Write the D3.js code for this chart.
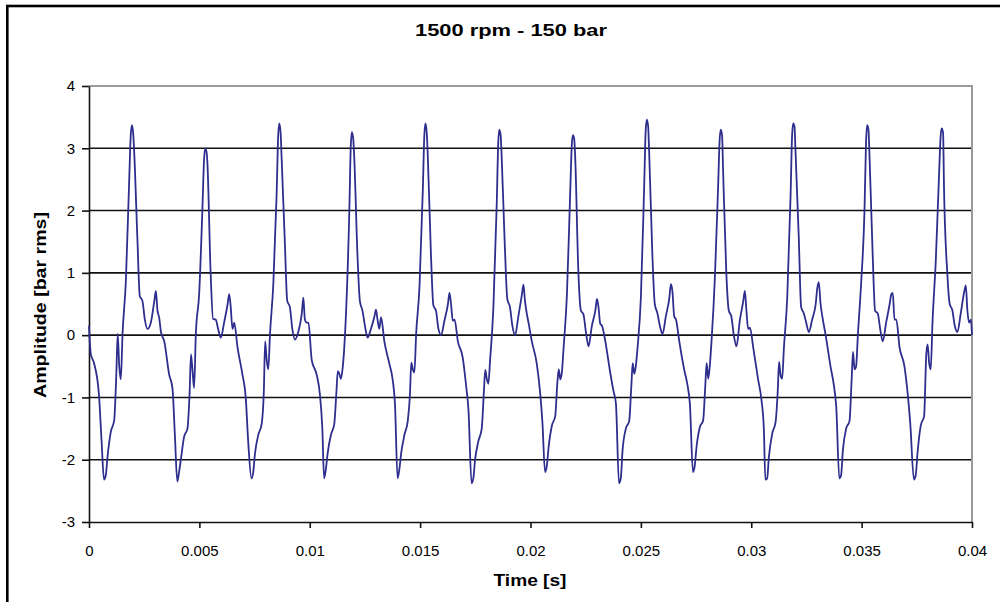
<!DOCTYPE html>
<html>
<head>
<meta charset="utf-8">
<script src="https://cdn.jsdelivr.net/npm/d3@7/dist/d3.min.js"></script>
<style>
	body { margin: 0; background: #fff; }
	svg text { font-family: "Liberation Sans", Arial, sans-serif; fill: #000; }
</style>
</head>
<body>
<svg id="chart" width="1000" height="602"></svg>
<script>
// chart texts
var chartTitle = "1500 rpm - 150 bar",
	xTitle = "Time [s]",
	yTitle = "Amplitude [bar rms]";

// axis ticks
var xTicks = [ 0, 0.005, 0.01, 0.015, 0.02, 0.025, 0.03, 0.035, 0.04 ],
	xTickLabels = [ "0", "0.005", "0.01", "0.015", "0.02", "0.025", "0.03", "0.035", "0.04" ],
	yTicks = [ -3, -2, -1, 0, 1, 2, 3, 4 ],
	yTickLabels = [ "-3", "-2", "-1", "0", "1", "2", "3", "4" ];

// signal, [time in ms, amplitude in bar rms], one array per engine cycle
var lead = [ [ 0.00, 0.15 ], [ 0.08, -0.30 ], [ 0.23, -0.45 ], [ 0.45, -0.95 ], [ 0.57, -1.70 ] ];

var cycle01 = [ [ 0.68, -2.32 ], [ 0.76, -2.25 ], [ 0.84, -1.95 ], [ 0.99, -1.55 ], [ 1.14, -1.37 ], [ 1.24, -0.6 ], [ 1.30, 0.02 ], [ 1.37, -0.5 ], [ 1.44, -0.71 ], [ 1.52, 0.02 ], [ 1.67, 0.87 ], [ 1.82, 2.48 ], [ 1.89, 3.2 ], [ 1.94, 3.37 ], [ 2.00, 3.25 ], [ 2.04, 3.0 ], [ 2.19, 1.57 ], [ 2.30, 0.63 ], [ 2.42, 0.55 ], [ 2.53, 0.25 ], [ 2.65, 0.1 ], [ 2.80, 0.2 ], [ 2.96, 0.55 ], [ 3.03, 0.71 ], [ 3.10, 0.4 ], [ 3.18, 0.28 ], [ 3.26, 0.05 ], [ 3.41, -0.1 ], [ 3.63, -0.63 ], [ 3.78, -0.85 ], [ 3.89, -1.6 ] ];

var cycle02 = [ [ 4.00, -2.35 ], [ 4.08, -2.2 ], [ 4.16, -2.0 ], [ 4.31, -1.63 ], [ 4.46, -1.5 ], [ 4.56, -0.9 ], [ 4.62, -0.31 ], [ 4.69, -0.57 ], [ 4.76, -0.85 ], [ 4.84, 0.02 ], [ 4.99, 0.66 ], [ 5.14, 2.05 ], [ 5.21, 2.8 ], [ 5.26, 3.0 ], [ 5.32, 2.95 ], [ 5.36, 2.79 ], [ 5.51, 1.0 ], [ 5.62, 0.26 ], [ 5.74, 0.25 ], [ 5.85, 0.1 ], [ 5.97, -0.04 ], [ 6.12, 0.2 ], [ 6.28, 0.5 ], [ 6.35, 0.66 ], [ 6.42, 0.45 ], [ 6.50, 0.1 ], [ 6.58, 0.2 ], [ 6.73, -0.2 ], [ 6.95, -0.63 ], [ 7.10, -1.0 ], [ 7.21, -1.7 ] ];

var cycle03 = [ [ 7.36, -2.3 ], [ 7.44, -2.2 ], [ 7.52, -1.9 ], [ 7.67, -1.6 ], [ 7.82, -1.43 ], [ 7.92, -0.9 ], [ 7.98, -0.1 ], [ 8.05, -0.4 ], [ 8.12, -0.55 ], [ 8.20, 0.02 ], [ 8.35, 0.82 ], [ 8.50, 2.27 ], [ 8.57, 3.2 ], [ 8.62, 3.4 ], [ 8.68, 3.25 ], [ 8.72, 2.9 ], [ 8.87, 1.51 ], [ 8.98, 0.55 ], [ 9.10, 0.45 ], [ 9.21, 0.1 ], [ 9.33, -0.07 ], [ 9.48, 0.05 ], [ 9.64, 0.35 ], [ 9.71, 0.6 ], [ 9.78, 0.25 ], [ 9.86, 0.2 ], [ 9.94, 0.2 ], [ 10.09, -0.4 ], [ 10.31, -0.63 ], [ 10.46, -0.95 ], [ 10.57, -1.5 ] ];

var cycle04 = [ [ 10.65, -2.3 ], [ 10.73, -2.15 ], [ 10.81, -1.9 ], [ 10.96, -1.6 ], [ 11.11, -1.43 ], [ 11.21, -0.9 ], [ 11.27, -0.58 ], [ 11.34, -0.62 ], [ 11.41, -0.7 ], [ 11.49, -0.53 ], [ 11.64, 0.33 ], [ 11.79, 1.95 ], [ 11.86, 3.05 ], [ 11.91, 3.26 ], [ 11.97, 3.15 ], [ 12.01, 2.9 ], [ 12.16, 1.3 ], [ 12.27, 0.55 ], [ 12.39, 0.39 ], [ 12.50, 0.15 ], [ 12.62, -0.04 ], [ 12.77, 0.1 ], [ 12.93, 0.3 ], [ 13.00, 0.41 ], [ 13.07, 0.25 ], [ 13.15, 0.1 ], [ 13.23, 0.29 ], [ 13.38, -0.1 ], [ 13.60, -0.45 ], [ 13.75, -0.7 ], [ 13.86, -1.1 ] ];

var cycle05 = [ [ 13.98, -2.3 ], [ 14.06, -2.15 ], [ 14.14, -1.9 ], [ 14.29, -1.6 ], [ 14.44, -1.38 ], [ 14.54, -0.95 ], [ 14.60, -0.44 ], [ 14.67, -0.55 ], [ 14.74, -0.6 ], [ 14.82, 0.02 ], [ 14.97, 0.77 ], [ 15.12, 2.3 ], [ 15.19, 3.2 ], [ 15.24, 3.4 ], [ 15.30, 3.25 ], [ 15.34, 2.95 ], [ 15.49, 1.3 ], [ 15.60, 0.48 ], [ 15.72, 0.39 ], [ 15.83, 0.1 ], [ 15.95, 0.0 ], [ 16.10, 0.23 ], [ 16.26, 0.5 ], [ 16.33, 0.68 ], [ 16.40, 0.5 ], [ 16.48, 0.23 ], [ 16.56, 0.25 ], [ 16.71, -0.1 ], [ 16.93, -0.36 ], [ 17.08, -0.8 ], [ 17.19, -1.2 ] ];

var cycle06 = [ [ 17.33, -2.38 ], [ 17.41, -2.3 ], [ 17.49, -2.0 ], [ 17.64, -1.7 ], [ 17.79, -1.5 ], [ 17.89, -0.9 ], [ 17.95, -0.56 ], [ 18.02, -0.7 ], [ 18.09, -0.78 ], [ 18.17, -0.4 ], [ 18.32, 0.45 ], [ 18.47, 2.1 ], [ 18.54, 3.1 ], [ 18.59, 3.3 ], [ 18.65, 3.2 ], [ 18.69, 2.9 ], [ 18.84, 1.4 ], [ 18.95, 0.58 ], [ 19.07, 0.45 ], [ 19.18, 0.15 ], [ 19.30, 0.0 ], [ 19.45, 0.3 ], [ 19.61, 0.65 ], [ 19.68, 0.81 ], [ 19.75, 0.55 ], [ 19.83, 0.35 ], [ 19.91, 0.2 ], [ 20.06, -0.1 ], [ 20.28, -0.45 ], [ 20.43, -0.9 ], [ 20.54, -1.4 ] ];

var cycle07 = [ [ 20.66, -2.2 ], [ 20.74, -2.1 ], [ 20.82, -1.8 ], [ 20.97, -1.45 ], [ 21.12, -1.3 ], [ 21.22, -0.75 ], [ 21.28, -0.55 ], [ 21.35, -0.71 ], [ 21.42, -0.6 ], [ 21.50, -0.2 ], [ 21.65, 0.65 ], [ 21.80, 2.3 ], [ 21.87, 3.05 ], [ 21.92, 3.21 ], [ 21.98, 3.15 ], [ 22.02, 2.9 ], [ 22.17, 1.0 ], [ 22.28, 0.4 ], [ 22.40, 0.33 ], [ 22.51, 0.05 ], [ 22.63, -0.18 ], [ 22.78, 0.15 ], [ 22.94, 0.4 ], [ 23.01, 0.58 ], [ 23.08, 0.45 ], [ 23.16, 0.18 ], [ 23.24, 0.15 ], [ 23.39, -0.1 ], [ 23.61, -0.6 ], [ 23.76, -0.9 ], [ 23.87, -1.1 ] ];

var cycle08 = [ [ 24.01, -2.38 ], [ 24.09, -2.3 ], [ 24.17, -1.85 ], [ 24.32, -1.5 ], [ 24.47, -1.38 ], [ 24.57, -0.8 ], [ 24.63, -0.45 ], [ 24.70, -0.62 ], [ 24.77, -0.5 ], [ 24.85, -0.2 ], [ 25.00, 0.6 ], [ 25.15, 2.4 ], [ 25.22, 3.3 ], [ 25.27, 3.46 ], [ 25.33, 3.35 ], [ 25.37, 3.0 ], [ 25.52, 1.3 ], [ 25.63, 0.5 ], [ 25.75, 0.35 ], [ 25.86, 0.15 ], [ 25.98, 0.02 ], [ 26.13, 0.3 ], [ 26.29, 0.6 ], [ 26.36, 0.82 ], [ 26.43, 0.7 ], [ 26.51, 0.3 ], [ 26.59, 0.25 ], [ 26.74, -0.1 ], [ 26.96, -0.55 ], [ 27.11, -0.8 ], [ 27.22, -1.1 ] ];

var cycle09 = [ [ 27.36, -2.2 ], [ 27.44, -2.1 ], [ 27.52, -1.8 ], [ 27.67, -1.48 ], [ 27.82, -1.37 ], [ 27.92, -0.8 ], [ 27.98, -0.45 ], [ 28.05, -0.7 ], [ 28.12, -0.5 ], [ 28.20, -0.1 ], [ 28.35, 0.9 ], [ 28.50, 2.4 ], [ 28.57, 3.15 ], [ 28.62, 3.3 ], [ 28.68, 3.2 ], [ 28.72, 2.7 ], [ 28.87, 1.0 ], [ 28.98, 0.4 ], [ 29.10, 0.3 ], [ 29.21, 0.0 ], [ 29.33, -0.18 ], [ 29.48, 0.23 ], [ 29.64, 0.55 ], [ 29.71, 0.71 ], [ 29.78, 0.4 ], [ 29.86, 0.1 ], [ 29.94, 0.12 ], [ 30.09, -0.2 ], [ 30.31, -0.71 ], [ 30.46, -1.03 ], [ 30.57, -1.5 ] ];

var cycle10 = [ [ 30.64, -2.32 ], [ 30.72, -2.3 ], [ 30.80, -1.95 ], [ 30.95, -1.58 ], [ 31.10, -1.4 ], [ 31.20, -0.9 ], [ 31.26, -0.43 ], [ 31.33, -0.65 ], [ 31.40, -0.7 ], [ 31.48, -0.2 ], [ 31.63, 0.6 ], [ 31.78, 2.22 ], [ 31.85, 3.2 ], [ 31.90, 3.4 ], [ 31.96, 3.35 ], [ 32.00, 3.0 ], [ 32.15, 1.6 ], [ 32.26, 0.45 ], [ 32.38, 0.35 ], [ 32.49, 0.2 ], [ 32.61, 0.05 ], [ 32.76, 0.25 ], [ 32.92, 0.5 ], [ 32.99, 0.75 ], [ 33.06, 0.85 ], [ 33.14, 0.5 ], [ 33.22, 0.3 ], [ 33.37, 0.0 ], [ 33.59, -0.5 ], [ 33.74, -0.8 ], [ 33.85, -1.15 ] ];

var cycle11 = [ [ 33.99, -2.3 ], [ 34.07, -2.25 ], [ 34.15, -1.85 ], [ 34.30, -1.5 ], [ 34.45, -1.38 ], [ 34.55, -0.7 ], [ 34.61, -0.27 ], [ 34.68, -0.55 ], [ 34.75, -0.5 ], [ 34.83, 0.0 ], [ 34.98, 0.85 ], [ 35.13, 2.0 ], [ 35.20, 3.1 ], [ 35.25, 3.37 ], [ 35.31, 3.3 ], [ 35.35, 2.95 ], [ 35.50, 1.3 ], [ 35.61, 0.39 ], [ 35.73, 0.35 ], [ 35.84, 0.1 ], [ 35.96, -0.1 ], [ 36.11, 0.2 ], [ 36.27, 0.5 ], [ 36.34, 0.65 ], [ 36.41, 0.68 ], [ 36.49, 0.25 ], [ 36.57, 0.25 ], [ 36.72, -0.2 ], [ 36.94, -0.5 ], [ 37.09, -0.95 ], [ 37.20, -1.4 ] ];

var cycle12 = [ [ 37.37, -2.32 ], [ 37.45, -2.25 ], [ 37.53, -1.9 ], [ 37.68, -1.45 ], [ 37.83, -1.3 ], [ 37.93, -0.3 ], [ 37.99, -0.15 ], [ 38.06, -0.45 ], [ 38.13, -0.55 ], [ 38.21, 0.2 ], [ 38.36, 1.2 ], [ 38.51, 2.6 ], [ 38.58, 3.2 ], [ 38.63, 3.32 ], [ 38.69, 3.25 ], [ 38.73, 2.4 ], [ 38.88, 1.0 ], [ 38.99, 0.5 ], [ 39.11, 0.4 ], [ 39.22, 0.15 ], [ 39.34, 0.05 ], [ 39.49, 0.35 ], [ 39.65, 0.7 ], [ 39.72, 0.8 ], [ 39.79, 0.4 ], [ 39.87, 0.2 ], [ 39.95, 0.25 ], [ 40.00, 0.0 ] ];

// stitch cycles together, ms -> s
var signal = [].concat( lead, cycle01, cycle02, cycle03, cycle04, cycle05, cycle06,
		cycle07, cycle08, cycle09, cycle10, cycle11, cycle12 )
	.map( function ( d ) {
		return { t: d[ 0 ] / 1000, v: d[ 1 ] };
	} );

// plot area edges
var plot = { left: 89, right: 972, top: 86, bottom: 522 };

var svg = d3.select( "#chart" );

// outer frame
svg.append( "rect" )
	.attr( "x", 7.3 )
	.attr( "y", 6 )
	.attr( "width", 1010 )
	.attr( "height", 700 )
	.attr( "fill", "none" )
	.attr( "stroke", "#000" )
	.attr( "stroke-width", 2.6 );

// scales
var x = d3.scaleLinear()
	.domain( [ 0, 0.04 ] )
	.range( [ plot.left, plot.right ] );

var y = d3.scaleLinear()
	.domain( [ -3, 4 ] )
	.range( [ plot.bottom, plot.top ] );

// horizontal gridlines (inside only)
svg.append( "g" )
	.selectAll( "line" )
	.data( yTicks.filter( function ( d ) { return d > -3 && d < 4; } ) )
	.enter()
	.append( "line" )
	.attr( "x1", plot.left )
	.attr( "x2", plot.right )
	.attr( "y1", function ( d ) { return y( d ); } )
	.attr( "y2", function ( d ) { return y( d ); } )
	.attr( "stroke", "#111" )
	.attr( "stroke-width", 1.6 );

// grey top + right border of the plot area
svg.append( "path" )
	.attr( "d", "M" + plot.left + "," + y( 4 ) + "H" + plot.right + "V" + plot.bottom )
	.attr( "fill", "none" )
	.attr( "stroke", "#9a9a9a" )
	.attr( "stroke-width", 2 );

// X AXIS
var xAxis = d3.axisBottom( x )
	.tickValues( xTicks )
	.tickFormat( function ( d, i ) { return xTickLabels[ i ]; } )
	.tickSizeInner( 6 )
	.tickSizeOuter( 0 )
	.tickPadding( 17 );

var gx = svg.append( "g" )
	.attr( "transform", "translate(0," + plot.bottom + ")" )
	.call( xAxis );

// Y AXIS (plain hyphen for negatives, like the original)
var yAxis = d3.axisLeft( y )
	.tickValues( yTicks )
	.tickFormat( function ( d, i ) { return yTickLabels[ i ]; } )
	.tickSizeInner( 7 )
	.tickSizeOuter( 0 )
	.tickPadding( 7 );

var gy = svg.append( "g" )
	.attr( "transform", "translate(" + plot.left + ",0)" )
	.call( yAxis );

// axis styling
[ gx, gy ].forEach( function ( g ) {
	g.select( ".domain" ).attr( "stroke", "#111" ).attr( "stroke-width", 1.6 );
	g.selectAll( ".tick line" ).attr( "stroke", "#111" ).attr( "stroke-width", 1.6 );
	g.selectAll( ".tick text" )
		.attr( "font-family", "'Liberation Sans', Arial, sans-serif" )
		.attr( "font-size", 15 )
		.attr( "fill", "#111" );
} );

// signal line
var line = d3.line()
	.x( function ( d ) { return x( d.t ); } )
	.y( function ( d ) { return y( d.v ); } )
	.curve( d3.curveMonotoneX );

svg.append( "path" )
	.datum( signal )
	.attr( "d", line )
	.attr( "fill", "none" )
	.attr( "stroke", "#2e2e8e" )
	.attr( "stroke-width", 1.8 )
	.attr( "stroke-linejoin", "round" );

// titles
svg.append( "text" )
	.attr( "x", 511 )
	.attr( "y", 36 )
	.attr( "text-anchor", "middle" )
	.attr( "font-weight", "bold" )
	.attr( "font-size", 17 )
	.attr( "textLength", 192 )
	.attr( "lengthAdjust", "spacingAndGlyphs" )
	.text( chartTitle );

svg.append( "text" )
	.attr( "x", 530 )
	.attr( "y", 586 )
	.attr( "text-anchor", "middle" )
	.attr( "font-weight", "bold" )
	.attr( "font-size", 16 )
	.attr( "textLength", 73 )
	.attr( "lengthAdjust", "spacingAndGlyphs" )
	.text( xTitle );

svg.append( "text" )
	.attr( "transform", "translate(46,305) rotate(-90)" )
	.attr( "text-anchor", "middle" )
	.attr( "font-weight", "bold" )
	.attr( "font-size", 16 )
	.attr( "textLength", 186 )
	.attr( "lengthAdjust", "spacingAndGlyphs" )
	.text( yTitle );
</script>
</body>
</html>
